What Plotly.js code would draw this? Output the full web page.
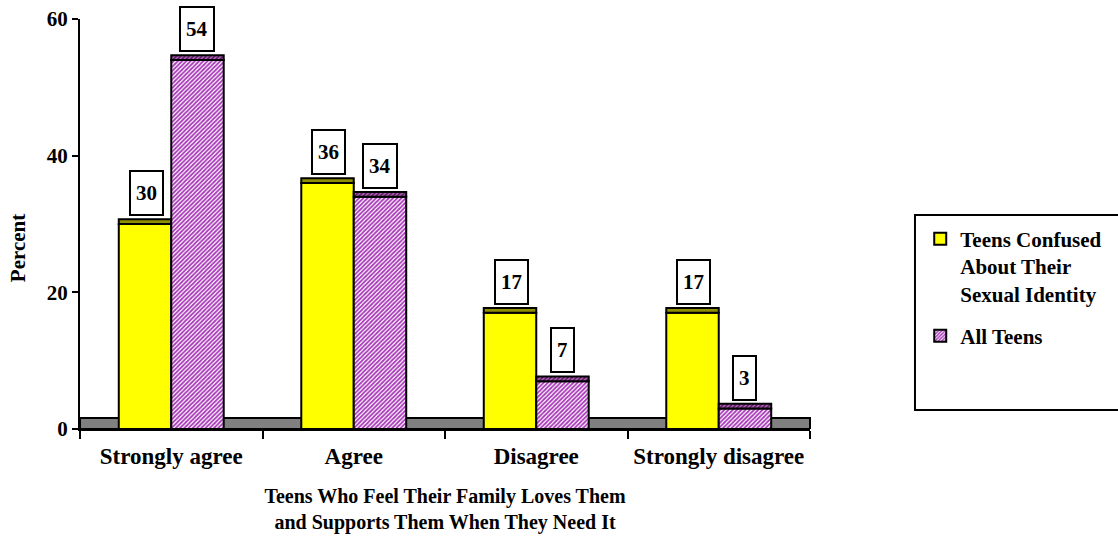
<!DOCTYPE html>
<html>
<head>
<meta charset="utf-8">
<script src="https://cdn.plot.ly/plotly-3.0.1.min.js"></script>
<style>html,body{margin:0;padding:0;background:#fff;}#chart{width:1118px;height:536px;}</style>
</head>
<body>
<div id="chart"></div>
<script>
const categories = ["Strongly agree", "Agree", "Disagree", "Strongly disagree"];
const confusedTeens = [30, 36, 17, 17];
const allTeens = [54, 34, 7, 3];
const seriesNames = ["Teens Confused<br>About Their<br>Sexual Identity", "All Teens"];
const yTicks = [0, 20, 40, 60];

const FONT = 'Liberation Serif, Times New Roman, serif';
const CAP = 0.7;
const capArr = categories.map(() => CAP);

const pinkPattern = {shape: '/', fgcolor: '#a838b8', bgcolor: '#ffffff', size: 3, solidity: 0.6};

const traces = [
  {type: 'bar', x: categories, y: confusedTeens, name: seriesNames[0], offsetgroup: 'a', legendgroup: 'a',
   marker: {color: '#ffff00', line: {color: '#000', width: 2}}, hoverinfo: 'skip'},
  {type: 'bar', x: categories, y: capArr, base: confusedTeens, offsetgroup: 'a', showlegend: false,
   marker: {color: '#8f8f00', line: {color: '#000', width: 2}}, hoverinfo: 'skip'},
  {type: 'bar', x: categories, y: allTeens, name: seriesNames[1], offsetgroup: 'b', legendgroup: 'b',
   marker: {color: '#d890e0', pattern: pinkPattern, line: {color: '#000', width: 2}}, hoverinfo: 'skip'},
  {type: 'bar', x: categories, y: capArr, base: allTeens, offsetgroup: 'b', showlegend: false,
   marker: {color: '#7a3a7a', pattern: {shape: '/', fgcolor: '#c070c8', bgcolor: '#5a2060', size: 3, solidity: 0.4}, line: {color: '#000', width: 2}}, hoverinfo: 'skip'}
];

const annotations = [];
categories.forEach((c, i) => {
  [[confusedTeens, -25], [allTeens, 26]].forEach(([arr, shift]) => {
    annotations.push({
      x: c, y: arr[i] + CAP, xref: 'x', yref: 'y', xshift: shift, yshift: 3,
      yanchor: 'bottom', showarrow: false, text: '<b>' + arr[i] + '</b>',
      font: {family: FONT, size: 21, color: '#000'},
      bgcolor: '#fff', bordercolor: '#000', borderwidth: 2, borderpad: 5, height: 32
    });
  });
});
annotations.push({
  xref: 'paper', yref: 'paper', x: -0.085, y: 0.441, xanchor: 'center', yanchor: 'middle',
  textangle: -90, showarrow: false, text: '<b>Percent</b>',
  font: {family: FONT, size: 21, color: '#000'}
});

const layout = {
  width: 1118, height: 536,
  margin: {l: 80, r: 308, t: 19, b: 107, autoexpand: false},
  paper_bgcolor: '#fff', plot_bgcolor: 'rgba(0,0,0,0)',
  font: {family: FONT, size: 19, color: '#000'},
  barmode: 'group', bargap: 0.425, bargroupgap: 0,
  xaxis: {
    type: 'category', range: [-0.5, 3.5],
    showline: true, linecolor: '#000', linewidth: 2,
    ticks: 'outside', tickson: 'boundaries', ticklen: 8, tickwidth: 2, tickcolor: '#000',
    ticklabelstandoff: 5,
    tickfont: {family: FONT, size: 23, color: '#000', weight: 'bold'},
    showgrid: false, zeroline: false,
    title: {text: '<b>Teens Who Feel Their Family Loves Them<br>and Supports Them When They Need It</b>',
            font: {family: FONT, size: 20, color: '#000'}, standoff: 21}
  },
  yaxis: {
    range: [0, 60], tickvals: yTicks, ticktext: yTicks.map(String),
    showline: true, linecolor: '#000', linewidth: 2,
    ticks: 'outside', ticklen: 6, tickwidth: 2, tickcolor: '#000',
    tickfont: {family: FONT, size: 21, color: '#000', weight: 'bold'},
    showgrid: false, zeroline: false
  },
  showlegend: true,
  legend: {
    x: 1.151, y: 0.513, xanchor: 'left', yanchor: 'top', valign: 'top',
    bgcolor: 'rgba(0,0,0,0)', borderwidth: 0,
    traceorder: 'grouped', tracegroupgap: 12,
    font: {family: FONT, size: 21, color: '#000', weight: 'bold'},
    itemclick: false, itemdoubleclick: false
  },
  shapes: [
    {type: 'rect', xref: 'paper', yref: 'y', x0: 0, x1: 1, y0: 0, y1: 1.6,
     fillcolor: '#808080', line: {color: '#000', width: 2}, layer: 'below'},
    {type: 'rect', xref: 'paper', yref: 'paper', x0: 1.1438, x1: 1.43, y0: 0.0463, y1: 0.522,
     fillcolor: 'rgba(0,0,0,0)', line: {color: '#000', width: 2}}
  ],
  annotations: annotations
};

Plotly.newPlot('chart', traces, layout, {displayModeBar: false, staticPlot: true});
</script>
</body>
</html>
